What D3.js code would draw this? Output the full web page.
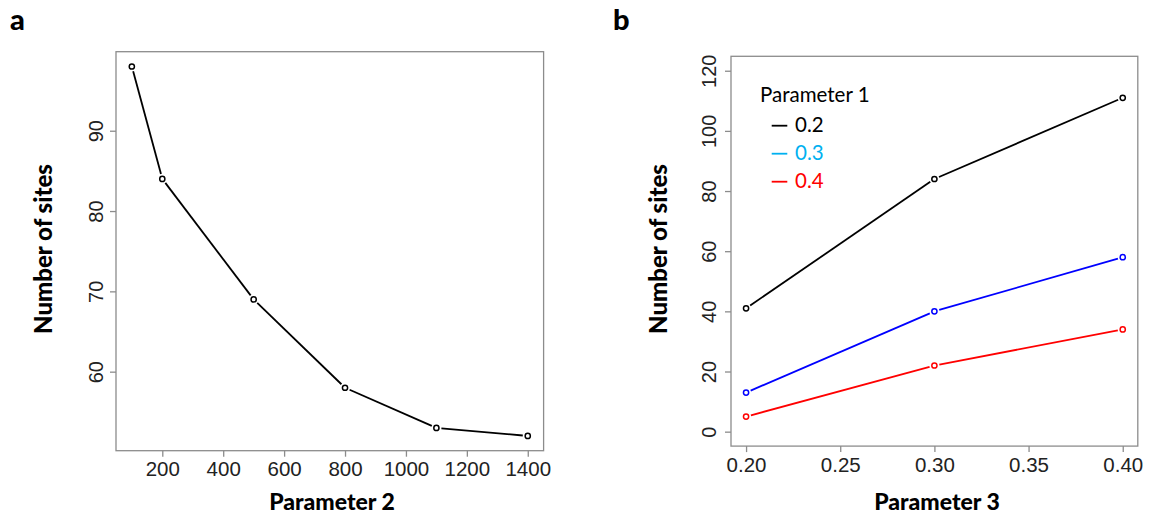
<!DOCTYPE html>
<html>
<head>
<meta charset="utf-8">
<script src="https://cdn.jsdelivr.net/npm/d3@7"></script>
<style>
  body { margin: 0; background: #fff; }
  .title { font-family: Lato, "Noto Sans", sans-serif; font-weight: 900; fill: #000; }
  .legend { font-family: Lato, "Noto Sans", sans-serif; font-size: 20.5px; }
</style>
</head>
<body>
<svg width="1149" height="517"></svg>
<script>
// panel a
var param2 = [100, 200, 500, 800, 1100, 1400];
var sitesA = [98, 84, 69, 58, 53, 52];
var xTicksA = [200, 400, 600, 800, 1000, 1200, 1400];
var yTicksA = [60, 70, 80, 90];

// panel b
var param3 = [0.20, 0.30, 0.40];
var sites02 = [41, 84, 111];
var sites03 = [13, 40, 58];
var sites04 = [5, 22, 34];
var xTicksB = [0.20, 0.25, 0.30, 0.35, 0.40];
var yTicksB = [0, 20, 40, 60, 80, 100, 120];
var legendTitle = "Parameter 1";
var legendLabels = ["0.2", "0.3", "0.4"];

var svg = d3.select("svg");
var tickFont = "'Liberation Sans', Arial, Helvetica, sans-serif";

// R style: data range padded by 4% on each side
function pad(lo, hi) {
  var d = (hi - lo) * 0.04;
  return [lo - d, hi + d];
}

function drawPanel(opt) {
  var x = d3.scaleLinear().domain(opt.xdom).range([opt.left, opt.right]),
    y = d3.scaleLinear().domain(opt.ydom).range([opt.bottom, opt.top]);

  svg.append("rect")
    .attr("x", opt.left).attr("y", opt.top)
    .attr("width", opt.right - opt.left).attr("height", opt.bottom - opt.top)
    .attr("fill", "none").attr("stroke", "#8c8c8c").attr("stroke-width", 1.3);

  var gx = svg.append("g")
    .attr("transform", "translate(0," + opt.bottom + ")")
    .call(d3.axisBottom(x).tickValues(opt.xticks).tickSize(6).tickPadding(5).tickFormat(opt.xfmt));
  gx.attr("font-family", tickFont).attr("font-size", opt.xfs + "px");
  gx.select(".domain").remove();
  gx.selectAll(".tick line").attr("stroke", "#8c8c8c").attr("stroke-width", 1.3);
  gx.selectAll(".tick text").attr("fill", "#222");

  var gy = svg.append("g")
    .attr("transform", "translate(" + opt.left + ",0)")
    .call(d3.axisLeft(y).tickValues(opt.yticks).tickSize(6));
  gy.attr("font-family", tickFont).attr("font-size", opt.yfs + "px");
  gy.select(".domain").remove();
  gy.selectAll(".tick line").attr("stroke", "#8c8c8c").attr("stroke-width", 1.3);
  gy.selectAll(".tick text")
    .attr("fill", "#222")
    .attr("transform", "rotate(-90)")
    .attr("x", 0).attr("y", -opt.ylabOff).attr("dy", 0)
    .attr("text-anchor", "middle");

  opt.series.forEach(function (s) {
    var pts = opt.xs.map(function (v, i) { return [x(v), y(s.values[i])]; });
    // type = "b": segments stop short of the points
    for (var i = 0; i < pts.length - 1; i++) {
      var p = pts[i], q = pts[i + 1];
      var dx = q[0] - p[0], dy = q[1] - p[1], len = Math.sqrt(dx * dx + dy * dy), g = 5;
      svg.append("line")
        .attr("x1", p[0] + dx * g / len).attr("y1", p[1] + dy * g / len)
        .attr("x2", q[0] - dx * g / len).attr("y2", q[1] - dy * g / len)
        .attr("stroke", s.color).attr("stroke-width", 1.8);
    }
    svg.selectAll(null).data(pts).enter().append("circle")
      .attr("cx", function (d) { return d[0]; })
      .attr("cy", function (d) { return d[1]; })
      .attr("r", 2.6)
      .attr("fill", "none").attr("stroke", s.color).attr("stroke-width", 1.5);
  });

  svg.append("text").attr("class", "title")
    .attr("transform", "translate(" + opt.ytitleX + ",249) rotate(-90)")
    .attr("text-anchor", "middle").style("font-size", "24px")
    .text("Number of sites");

  svg.append("text").attr("class", "title")
    .attr("x", opt.xtitleX).attr("y", 510)
    .attr("text-anchor", "middle").style("font-size", "23px")
    .text(opt.xtitle);

  svg.append("text").attr("class", "title")
    .attr("x", opt.tagX).attr("y", 30)
    .style("font-size", "29px")
    .text(opt.tag);
}

drawPanel({
  left: 116, right: 543.6, top: 51.7, bottom: 450.7,
  xdom: pad(d3.min(param2), d3.max(param2)), ydom: pad(d3.min(sitesA), d3.max(sitesA)),
  xticks: xTicksA, yticks: yTicksA, xfmt: d3.format("d"),
  xfs: 20.5, yfs: 20, ylabOff: 13,
  xs: param2,
  series: [{ values: sitesA, color: "#000" }],
  ytitleX: 51.7, xtitleX: 332, xtitle: "Parameter 2",
  tagX: 10, tag: "a"
});

drawPanel({
  left: 731, right: 1137.8, top: 56.3, bottom: 446.1,
  xdom: pad(d3.min(param3), d3.max(param3)), ydom: pad(0, 120),
  xticks: xTicksB, yticks: yTicksB, xfmt: d3.format(".2f"),
  xfs: 20.5, yfs: 20, ylabOff: 15,
  xs: param3,
  series: [
    { values: sites02, color: "#000" },
    { values: sites03, color: "#0000ff" },
    { values: sites04, color: "#ff0000" }
  ],
  ytitleX: 667.2, xtitleX: 937, xtitle: "Parameter 3",
  tagX: 613, tag: "b"
});

// legend
var legendColors = ["#000000", "#00b0f0", "#ff0000"];
var lg = svg.append("g").attr("class", "legend");
lg.append("text").attr("x", 760).attr("y", 102.3).attr("fill", "#000").text(legendTitle);
legendLabels.forEach(function (lab, i) {
  var yy = 125.7 + i * 28;
  lg.append("line").attr("x1", 771.7).attr("x2", 787.3).attr("y1", yy).attr("y2", yy)
    .attr("stroke", legendColors[i]).attr("stroke-width", 1.8);
  lg.append("text").attr("x", 795).attr("y", yy + 6.5).attr("fill", legendColors[i]).text(lab);
});
</script>
</body>
</html>
